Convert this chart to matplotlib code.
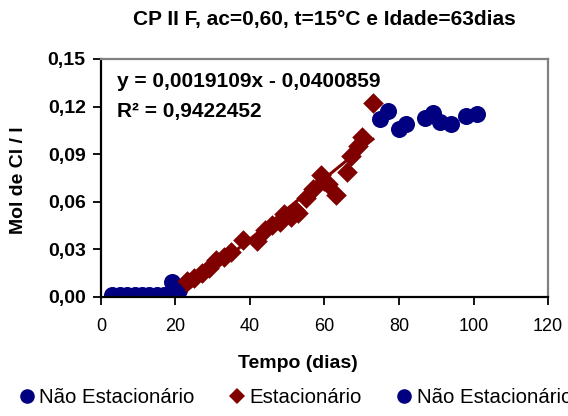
import matplotlib
matplotlib.use("Agg")
import matplotlib.pyplot as plt
from matplotlib.ticker import FuncFormatter, MultipleLocator
from matplotlib.lines import Line2D
import numpy as np

plt.rcParams['font.family'] = ['Liberation Sans', 'DejaVu Sans']

# Early period (non-stationary)
early_x = [3, 5, 7, 9, 11, 13, 15, 17, 19, 21]
early_y = [0.001, 0.001, 0.001, 0.001, 0.001, 0.001, 0.001, 0.001, 0.009, 0.004]

# Stationary period
stat_x = [23, 25, 27, 29, 31, 33, 35, 38, 42, 44, 46, 48, 49, 51, 52, 53,
          55, 57, 59, 60, 61, 63, 66, 67, 69, 70, 73]
stat_y = [0.010, 0.012, 0.015, 0.018, 0.023, 0.025, 0.028, 0.036, 0.035,
          0.042, 0.045, 0.047, 0.052, 0.050, 0.055, 0.053, 0.062, 0.068,
          0.077, 0.073, 0.071, 0.064, 0.079, 0.089, 0.095, 0.101, 0.122]

# Late period (non-stationary)
late_x = [75, 77, 80, 82, 87, 89, 91, 94, 98, 101]
late_y = [0.112, 0.117, 0.106, 0.109, 0.113, 0.116, 0.110, 0.109, 0.114, 0.115]

# Linear trend of the stationary period
slope = 0.0019109
intercept = -0.0400859
r2 = 0.9422452

navy = '#000080'
maroon = '#800000'

fig = plt.figure(figsize=(5.68, 4.16), dpi=100)
ax = fig.add_axes([0.1778, 0.2868, 0.7870, 0.5714])

ax.scatter(early_x, early_y, s=150, marker='o', color=navy, zorder=3, linewidths=0)
ax.scatter(stat_x, stat_y, s=110, marker='D', color=maroon, zorder=3, linewidths=0)
ax.scatter(late_x, late_y, s=150, marker='o', color=navy, zorder=3, linewidths=0)

tx = np.array([min(stat_x), max(stat_x)])
ax.plot(tx, slope * tx + intercept, color=maroon, lw=2.2, zorder=4)

ax.set_xlim(0, 120)
ax.set_ylim(0, 0.15)
ax.xaxis.set_major_locator(MultipleLocator(20))
ax.yaxis.set_major_locator(MultipleLocator(0.03))
ax.yaxis.set_major_formatter(FuncFormatter(lambda v, p: f"{v:.2f}".replace('.', ',')))

for side in ('left', 'bottom'):
    ax.spines[side].set_color('black')
    ax.spines[side].set_linewidth(1.6)
for side in ('top', 'right'):
    ax.spines[side].set_color('#808080')
    ax.spines[side].set_linewidth(1.6)

ax.tick_params(axis='both', direction='out', length=6, width=1.3, color='black')
ax.tick_params(axis='x', labelsize=13, pad=9)
ax.tick_params(axis='y', labelsize=14, pad=5)
for lab in ax.get_yticklabels():
    lab.set_fontweight('bold')
for spine in ax.spines.values():
    spine.set_zorder(5)

fig.text(0.5713, 0.952, 'CP II F, ac=0,60, t=15°C e Idade=63dias',
         ha='center', va='center', fontsize=15, fontweight='bold')
fig.text(0.5246, 0.127, 'Tempo (dias)', ha='center', va='center',
         fontsize=14, fontweight='bold')
fig.text(0.032, 0.568, 'Mol de Cl / l', ha='center', va='center',
         rotation=90, fontsize=14, fontweight='bold')

eq = f"y = {slope:.7f}x - {abs(intercept):.7f}".replace('.', ',')
ax.text(0.036, 0.905, eq, transform=ax.transAxes, ha='left', va='center',
        fontsize=15, fontweight='bold')
ax.text(0.036, 0.78, f"R² = {r2:.7f}".replace('.', ','), transform=ax.transAxes,
        ha='left', va='center', fontsize=15, fontweight='bold')

handles = [
    Line2D([], [], ls='none', marker='o', ms=10.5, color=navy, mew=0),
    Line2D([], [], ls='none', marker='D', ms=8.5, color=maroon, mew=0),
    Line2D([], [], ls='none', marker='o', ms=10.5, color=navy, mew=0),
]
labels = ['Não Estacionário', 'Estacionário', 'Não Estacionário']
fig.legend(handles, labels, loc='center left', bbox_to_anchor=(0.035, 0.045),
           ncol=3, frameon=False, fontsize=14.7, handlelength=0.7,
           handletextpad=0.26, columnspacing=1.72, borderpad=0, borderaxespad=0)

fig.savefig('out.png', dpi=100)
